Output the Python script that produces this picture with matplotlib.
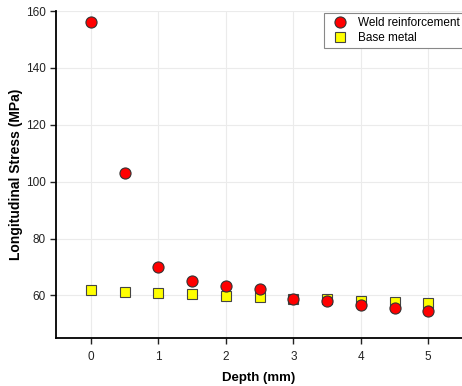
import matplotlib
matplotlib.use('Agg')
import matplotlib.pyplot as plt

plt.rcParams['font.family'] = ['Liberation Sans', 'DejaVu Sans']

depth = [0, 0.5, 1, 1.5, 2, 2.5, 3, 3.5, 4, 4.5, 5]
weld = [156, 103, 70, 65.2, 63.2, 62.4, 58.8, 58, 56.5, 55.7, 54.5]
base = [61.8, 61.3, 60.8, 60.5, 59.9, 59.5, 58.9, 58.6, 58.1, 57.6, 57.2]

fig = plt.figure(figsize=(4.62, 3.86), dpi=100)
ax = fig.add_axes([0.121, 0.124, 0.879, 0.8475])

ax.plot(depth, base, 's', color='#ffff00', markeredgecolor='#444444',
        markeredgewidth=0.8, markersize=6.5, label='Base metal', zorder=3)
ax.plot(depth, weld, 'o', color='#ff0000', markeredgecolor='#333333',
        markeredgewidth=0.8, markersize=8, label='Weld reinforcement', zorder=4)

ax.set_xlim(-0.52, 5.5)
ax.set_ylim(45, 160)
ax.set_xticks([0, 1, 2, 3, 4, 5])
ax.set_yticks([60, 80, 100, 120, 140, 160])
ax.grid(True, color='#ebebeb', linewidth=0.8)
ax.set_axisbelow(True)

for s in ['top', 'right']:
    ax.spines[s].set_visible(False)
for s in ['left', 'bottom']:
    ax.spines[s].set_linewidth(1.3)
ax.tick_params(direction='out', length=4, width=1, labelsize=8.5, colors='#222222')
ax.tick_params(axis='x', pad=5)

ax.set_xlabel('Depth (mm)', fontsize=9.5, fontweight='bold', labelpad=7)
ax.set_ylabel('Longitudinal Stress (MPa)', fontsize=10, fontweight='bold', labelpad=2)

h, l = ax.get_legend_handles_labels()
leg = ax.legend(h[::-1], l[::-1], loc='upper right', bbox_to_anchor=(1.01, 1.0),
                fontsize=8.5, fancybox=False, framealpha=1, edgecolor='#888888',
                borderpad=0.3, labelspacing=0.3, handletextpad=0.6, borderaxespad=0.2)
leg.get_frame().set_linewidth(0.8)

fig.savefig('out.png', dpi=100)
